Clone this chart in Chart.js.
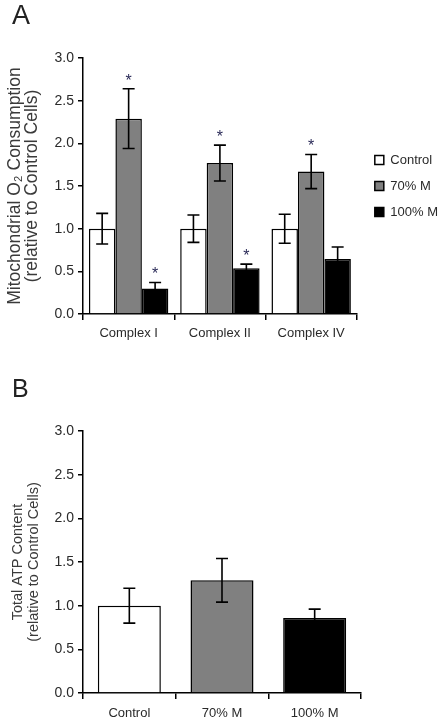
<!DOCTYPE html>
<html>
<head>
<meta charset="utf-8">
<script src="https://cdn.jsdelivr.net/npm/chart.js@4.4.1/dist/chart.umd.min.js"></script>
<style>
  html, body { margin: 0; padding: 0; background: #ffffff; }
  body { width: 445px; height: 727px; position: relative; overflow: hidden; }
  .wrap { position: absolute; left: 0; width: 445px; }
  #wa { top: 0; height: 345px; }
  #wb { top: 370px; height: 357px; }
</style>
</head>
<body>
<div class="wrap" id="wa"><canvas id="chartA" width="445" height="345"></canvas></div>
<div class="wrap" id="wb"><canvas id="chartB" width="445" height="357"></canvas></div>
<script>
// ---------- data ----------
const categoriesA = ['Complex I', 'Complex II', 'Complex IV'];
const seriesNames = ['Control', '70% M', '100% M'];
const controlA    = [1.00, 1.00, 1.00];
const controlErrA = [0.18, 0.16, 0.17];
const m70A        = [2.29, 1.77, 1.67];
const m70ErrA     = [0.35, 0.21, 0.20];
const m100A       = [0.30, 0.535, 0.645];
const m100ErrA    = [0.07, 0.05, 0.14];
const sigControlA = [false, false, false];
const sig70A      = [true, true, true];
const sig100A     = [true, true, false];

const categoriesB = ['Control', '70% M', '100% M'];
const atpB        = [1.00, 1.29, 0.86];
const atpErrB     = [0.20, 0.25, 0.10];

const yTicks = [0.0, 0.5, 1.0, 1.5, 2.0, 2.5, 3.0];

// ---------- styles ----------
const FONT = "'Liberation Sans', Arial, sans-serif";
const TXT = '#2a2a2a';
const fillColors = ['#ffffff', '#808080', '#000000'];

const errorBarPlugin = {
  id: 'errorBars',
  afterDatasetsDraw(chart) {
    const ctx = chart.ctx;
    const ys = chart.scales.y;
    chart.data.datasets.forEach((ds, i) => {
      const meta = chart.getDatasetMeta(i);
      if (meta.hidden) return;
      meta.data.forEach((bar, j) => {
        const v = ds.data[j], e = ds.errors[j];
        const x = bar.x;
        const yt = ys.getPixelForValue(v + e);
        const yb = ys.getPixelForValue(v - e);
        ctx.save();
        ctx.strokeStyle = '#000';
        ctx.lineWidth = 1.6;
        ctx.beginPath();
        ctx.moveTo(x, yt); ctx.lineTo(x, yb);
        ctx.moveTo(x - 6, yt); ctx.lineTo(x + 6, yt);
        ctx.moveTo(x - 6, yb); ctx.lineTo(x + 6, yb);
        ctx.stroke();
        if (ds.sig && ds.sig[j]) {
          ctx.fillStyle = '#2b2b58';
          ctx.font = '16px ' + FONT;
          ctx.textAlign = 'center';
          ctx.textBaseline = 'alphabetic';
          ctx.fillText('*', x, yt - 3);
        }
        ctx.restore();
      });
    });
  }
};

// nudges the built-in legend box to the reference position
const legendNudge = {
  id: 'legendNudge',
  afterLayout(chart) {
    const lg = chart.legend;
    if (!lg || !lg.options.display) return;
    lg.left += 5; lg.right += 5;
    lg.top += 13.5; lg.bottom += 13.5;
  }
};

function yScale(titleLines, titleSize, titleLH, titlePadTop) {
  return {
    min: 0, max: 3,
    afterBuildTicks(scale) { scale.ticks = yTicks.map(v => ({ value: v })); },
    ticks: {
      callback: v => Number(v).toFixed(1),
      color: TXT, font: { family: FONT, size: 14 }, padding: 4
    },
    grid: { drawOnChartArea: false, drawTicks: true, tickLength: 5, color: '#000', lineWidth: 1.5 },
    border: { display: true, color: '#000', width: 1.5 },
    title: {
      display: true, text: titleLines, color: '#3a3a3a',
      font: { family: FONT, size: titleSize, lineHeight: titleLH },
      padding: { top: titlePadTop, bottom: 0 }
    },
    afterFit(scale) { scale.width = 71; }
  };
}

function xScale(h, pad) {
  return {
    ticks: { color: TXT, font: { family: FONT, size: 13 }, padding: pad, maxRotation: 0 },
    grid: { drawOnChartArea: false, drawTicks: true, tickLength: 6, color: '#000', lineWidth: 1.5, offset: true },
    border: { display: true, color: '#000', width: 1.5 },
    afterFit(scale) { scale.height = h; }
  };
}

const dsA = [
  { label: seriesNames[0], data: controlA, errors: controlErrA, sig: sigControlA },
  { label: seriesNames[1], data: m70A, errors: m70ErrA, sig: sig70A },
  { label: seriesNames[2], data: m100A, errors: m100ErrA, sig: sig100A }
].map((d, i) => Object.assign(d, {
  backgroundColor: fillColors[i], borderColor: '#000', borderWidth: 1.5,
  categoryPercentage: 0.87, barPercentage: 1.0
}));

new Chart(document.getElementById('chartA'), {
  type: 'bar',
  data: { labels: categoriesA, datasets: dsA },
  options: {
    responsive: false, animation: false,
    layout: { padding: { left: 12, right: 2, top: 0, bottom: 0 } },
    scales: {
      x: xScale(31, 6),
      y: yScale(['Mitochondrial O\u2082 Consumption', '(relative to Control Cells)'], 17.5, 0.97, -5.5)
    },
    plugins: {
      title: {
        display: true, text: 'A', align: 'start', color: '#222',
        font: { family: FONT, size: 27, weight: 'normal', lineHeight: 1.2 },
        padding: { top: 0.7, bottom: 25 }
      },
      legend: {
        position: 'right', align: 'center',
        labels: {
          boxWidth: 9, boxHeight: 9, padding: 13, color: TXT,
          font: { family: FONT, size: 13 }
        }
      },
      tooltip: { enabled: false }
    }
  },
  plugins: [errorBarPlugin, legendNudge]
});

new Chart(document.getElementById('chartB'), {
  type: 'bar',
  data: {
    labels: categoriesB,
    datasets: [{
      label: 'Total ATP Content', data: atpB, errors: atpErrB,
      backgroundColor: fillColors, borderColor: '#000', borderWidth: 1.5,
      categoryPercentage: 1.0, barPercentage: 0.68
    }]
  },
  options: {
    responsive: false, animation: false,
    layout: { padding: { left: 12, right: 84, top: 0, bottom: 0 } },
    scales: {
      x: xScale(34, 7),
      y: yScale(['Total ATP Content', '(relative to Control Cells)'], 14.5, 1.1, -2)
    },
    plugins: {
      title: {
        display: true, text: 'B', align: 'start', color: '#222',
        font: { family: FONT, size: 25, weight: 'normal', lineHeight: 1.2 },
        padding: { top: 5.5, bottom: 25.5 }
      },
      legend: { display: false },
      tooltip: { enabled: false }
    }
  },
  plugins: [errorBarPlugin]
});
</script>
</body>
</html>
